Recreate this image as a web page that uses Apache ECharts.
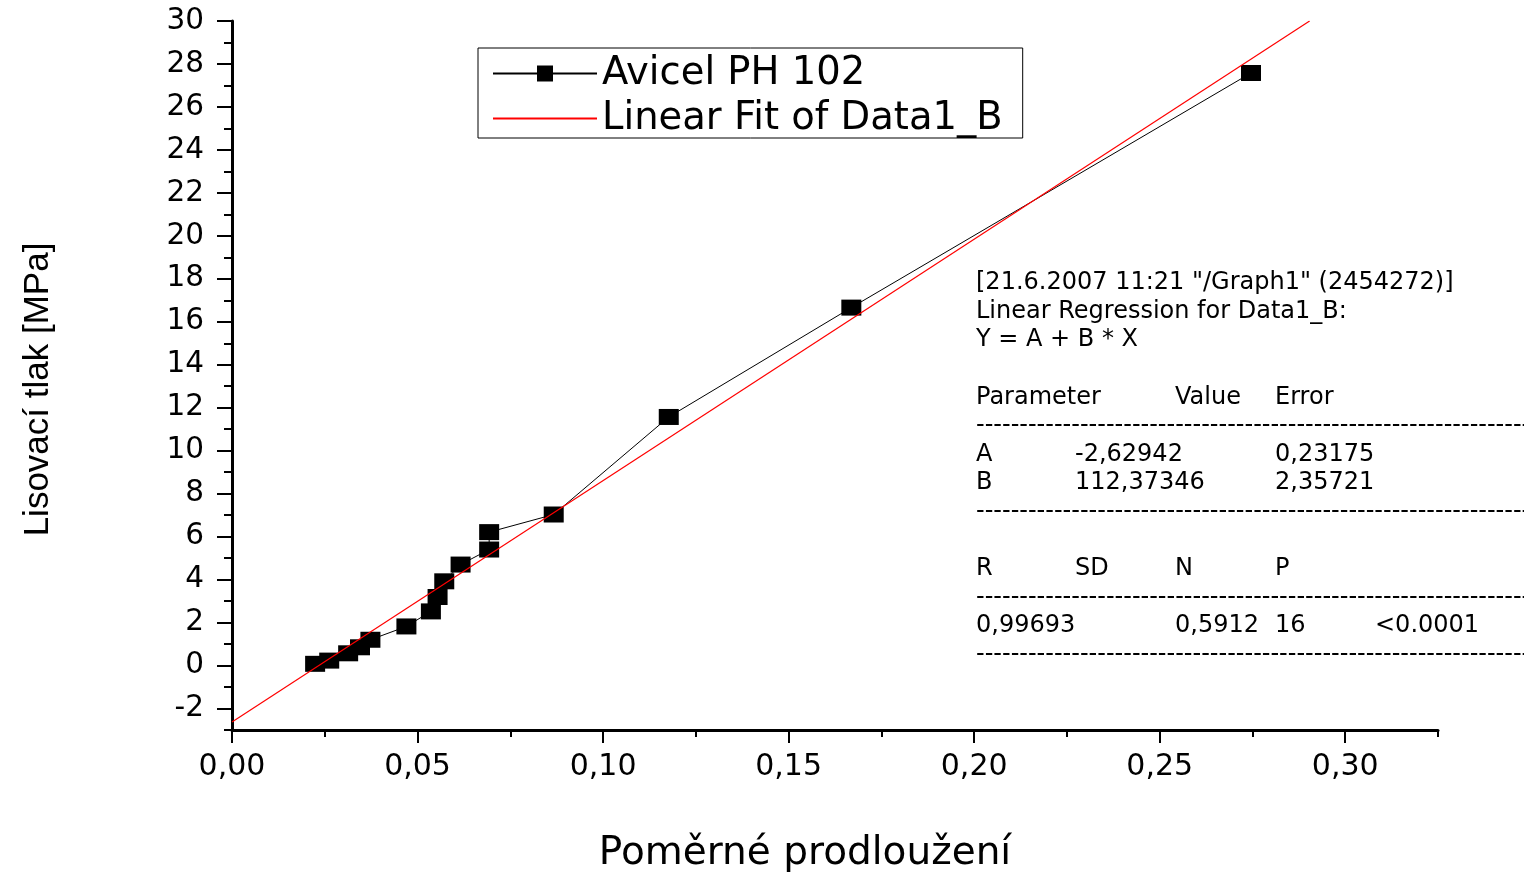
<!DOCTYPE html>
<html>
<head>
<meta charset="utf-8">
<script src="https://cdn.jsdelivr.net/npm/echarts@6/dist/echarts.min.js"></script>
<style>
html,body{margin:0;padding:0;background:#fff;}
#chart{width:1524px;height:872px;}
</style>
</head>
<body>
<div id="chart"></div>
<script>
// Measured data (Poměrné prodloužení vs Lisovací tlak)
var strainX = [0.0224, 0.0262, 0.0313, 0.0345, 0.0373, 0.0470, 0.0536, 0.0554, 0.0572, 0.0616, 0.0693, 0.0693, 0.0867, 0.1177, 0.1669, 0.2746];
var pressureY = [0.08, 0.23, 0.57, 0.85, 1.20, 1.82, 2.52, 3.19, 3.92, 4.70, 5.40, 6.21, 7.03, 11.57, 16.66, 27.58];
// Linear fit endpoints (Y = A + B*X, A=-2.62942, B=112.37346)
var fitX = [0, 0.2904];
var fitY = [-2.629, 30];
// Tick values
var xMajorTicks = [0, 0.05, 0.10, 0.15, 0.20, 0.25, 0.30];
var xMinorTicks = [0.025, 0.075, 0.125, 0.175, 0.225, 0.275, 0.325];
var yMajorTicks = [-2, 0, 2, 4, 6, 8, 10, 12, 14, 16, 18, 20, 22, 24, 26, 28, 30];
var yMinorTicks = [-3, -1, 1, 3, 5, 7, 9, 11, 13, 15, 17, 19, 21, 23, 25, 27, 29];
// Regression report text
var reportHeader = ['[21.6.2007 11:21 "/Graph1" (2454272)]', 'Linear Regression for Data1_B:', 'Y = A + B * X'];
var paramHead = ['Parameter', 'Value', 'Error'];
var paramA = ['A', '-2,62942', '0,23175'];
var paramB = ['B', '112,37346', '2,35721'];
var statHead = ['R', 'SD', 'N', 'P'];
var statVals = ['0,99693', '0,5912', '16', '<0.0001'];

var seriesData = strainX.map(function (x, i) { return [x, pressureY[i]]; });
var fitData = fitX.map(function (x, i) { return [x, fitY[i]]; });

var chart = echarts.init(document.getElementById('chart'));

var TF = 'DejaVu Sans';
var lineY0 = 283, lineStep = 28.6, colX = [976, 1075, 1175, 1275, 1375];
var graphics = [];
function txt(str, x, line) {
  graphics.push({
    type: 'text', x: x, y: lineY0 + lineStep * line,
    style: { text: str, font: '24px "' + TF + '"', fill: '#000', verticalAlign: 'middle', align: 'left' }
  });
}
var dashes = new Array(78).join('-');
reportHeader.forEach(function (s, i) { txt(s, colX[0], i); });
txt(paramHead[0], colX[0], 4); txt(paramHead[1], colX[2], 4); txt(paramHead[2], colX[3], 4);
txt(dashes, colX[0], 5);
txt(paramA[0], colX[0], 6); txt(paramA[1], colX[1], 6); txt(paramA[2], colX[3], 6);
txt(paramB[0], colX[0], 7); txt(paramB[1], colX[1], 7); txt(paramB[2], colX[3], 7);
txt(dashes, colX[0], 8);
statHead.forEach(function (s, i) { txt(s, colX[i], 10); });
txt(dashes, colX[0], 11);
txt(statVals[0], colX[0], 12); txt(statVals[1], colX[2], 12); txt(statVals[2], colX[3], 12); txt(statVals[3], colX[4], 12);
txt(dashes, colX[0], 13);

var option = {
  backgroundColor: '#fff',
  animation: false,
  grid: { left: 232, top: 21, right: 86, bottom: 142, containLabel: false, outerBoundsMode: 'none' },
  legend: {
    orient: 'vertical', left: 478, top: 48,
    padding: [6, 20, 0, 14],
    borderColor: '#000', borderWidth: 1, backgroundColor: '#fff',
    itemWidth: 104, itemHeight: 20, itemGap: 6,
    textStyle: { fontFamily: TF, fontSize: 38.5, color: '#000' },
    data: [
      { name: 'Avicel PH 102' },
      { name: 'Linear Fit of Data1_B', itemStyle: { color: 'rgba(0,0,0,0)', opacity: 0, borderWidth: 0 } }
    ]
  },
  xAxis: [{
    type: 'value', min: 0, max: 0.325,
    name: 'Poměrné prodloužení', nameLocation: 'middle', nameGap: 104,
    nameTextStyle: { fontFamily: TF, fontSize: 39, color: '#000', padding: [0, 60, 0, 0] },
    axisLine: { show: true, onZero: false, lineStyle: { color: '#000', width: 3 } },
    axisTick: { show: true, inside: false, length: 13, customValues: xMajorTicks, lineStyle: { color: '#000', width: 2 } },
    axisLabel: { show: true, margin: 22, customValues: xMajorTicks, fontFamily: TF, fontSize: 30, color: '#000',
      formatter: function (v) { return v.toFixed(2).replace('.', ','); } },
    splitLine: { show: false }
  }, {
    type: 'value', min: 0, max: 0.325, position: 'bottom',
    axisLine: { show: false, onZero: false },
    axisTick: { show: true, length: 7, customValues: xMinorTicks, lineStyle: { color: '#000', width: 2 } },
    axisLabel: { show: false },
    splitLine: { show: false }
  }],
  yAxis: [{
    type: 'value', min: -3, max: 30,
    name: 'Lisovací tlak [MPa]', nameLocation: 'middle', nameGap: 176, nameRotate: 90,
    nameTextStyle: { fontFamily: 'Liberation Sans', fontSize: 35, color: '#000', padding: [0, 28, 0, 0] },
    axisLine: { show: true, onZero: false, lineStyle: { color: '#000', width: 3 } },
    axisTick: { show: true, inside: false, length: 15, customValues: yMajorTicks, lineStyle: { color: '#000', width: 2 } },
    axisLabel: { show: true, margin: 28, customValues: yMajorTicks, fontFamily: TF, fontSize: 29.5, color: '#000' },
    splitLine: { show: false }
  }, {
    type: 'value', min: -3, max: 30, position: 'left',
    axisLine: { show: false, onZero: false },
    axisTick: { show: true, length: 8, customValues: yMinorTicks, lineStyle: { color: '#000', width: 2 } },
    axisLabel: { show: false },
    splitLine: { show: false }
  }],
  series: [{
    name: 'Avicel PH 102', type: 'line', data: seriesData,
    symbol: 'rect', symbolSize: [20, 16],
    lineStyle: { color: '#000', width: 1 },
    itemStyle: { color: '#000' },
    z: 2
  }, {
    name: 'Linear Fit of Data1_B', type: 'line', data: fitData,
    symbol: 'none', lineStyle: { color: '#ff0000', width: 1.2 },
    itemStyle: { color: '#ff0000' },
    z: 3
  }],
  graphic: graphics
};
chart.setOption(option);
</script>
</body>
</html>
